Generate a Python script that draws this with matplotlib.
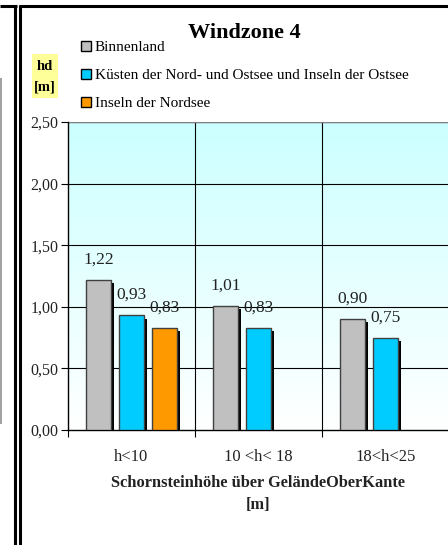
import numpy as np
import matplotlib
matplotlib.use("Agg")
import matplotlib.pyplot as plt
from matplotlib.patches import Patch, Rectangle
from matplotlib.lines import Line2D
import matplotlib.patheffects as pe
from matplotlib.ticker import FuncFormatter

categories = ["h<10", "10 <h< 18", "18<h<25"]
series_names = ["Binnenland",
                "Küsten der Nord- und Ostsee und Inseln der Ostsee",
                "Inseln der Nordsee"]
binnenland = [1.22, 1.01, 0.90]
kuesten = [0.93, 0.83, 0.75]
nordsee = [0.83, None, None]
yticks = [0.0, 0.5, 1.0, 1.5, 2.0, 2.5]
colors = ["#c0c0c0", "#00ccff", "#ff9900"]

plt.rcParams['font.family'] = ['Liberation Serif', 'DejaVu Serif']

W, H = 448, 545
fig = plt.figure(figsize=(W / 100, H / 100), dpi=100)

def fx(px):
    return px / W

def fy(py):
    return 1 - py / H

ax = fig.add_axes([fx(68), fy(430), fx(449) - fx(68), fy(122) - fy(430)])

n = len(categories)
ax.set_xlim(0, n)
ax.set_ylim(0, 2.5)

# gradient background
grad = np.linspace(1, 0, 256).reshape(-1, 1)
top = np.array([0.80, 1.0, 1.0])
bot = np.array([1.0, 1.0, 1.0])
img = bot + (top - bot) * grad[..., None]
ax.imshow(img, extent=[0, n, 0, 2.5], aspect='auto', zorder=0, origin='upper')

# grid
for y in yticks[1:]:
    ax.axhline(y, color='black', lw=0.8, zorder=1)
for x in range(1, n):
    ax.axvline(x, color='black', lw=0.8, zorder=1)

step = 0.26
width = 0.19
all_series = [binnenland, kuesten, nordsee]
shadow = [pe.SimplePatchShadow(offset=(2.4, -2.4), shadow_rgbFace='black', alpha=1.0, rho=1), pe.Normal()]
for si, (vals, col) in enumerate(zip(all_series, colors)):
    for ci, v in enumerate(vals):
        if v is None:
            continue
        xc = ci + 0.5 + (si - 1) * step
        b = ax.bar(xc, v, width=width, color=col, edgecolor='#404040', lw=1.0, zorder=3)
        for p in b:
            p.set_path_effects(shadow)
        ax.text(xc, v + 0.1, f"{v:.2f}".replace('.', ','), ha='center', va='bottom',
                fontsize=12.5, color='#222222', zorder=4)

ax.set_yticks(yticks)
ax.yaxis.set_major_formatter(FuncFormatter(lambda v, p: f"{v:.2f}".replace('.', ',')))
ax.set_xticks(range(0, n + 1))
ax.set_xticklabels([])
ax.set_xticks([i + 0.5 for i in range(n)], minor=True)
ax.set_xticklabels(categories, minor=True)
ax.tick_params(axis='x', which='minor', length=0, pad=14, labelsize=12, labelcolor='#222222')
ax.tick_params(axis='x', which='major', length=5, direction='out', width=0.8)
ax.tick_params(axis='y', length=5, direction='out', width=0.8, labelsize=11.5, labelcolor='#222222', pad=2)
for s in ['top', 'right']:
    ax.spines[s].set_visible(False)
ax.spines['left'].set_linewidth(1.0)
ax.spines['bottom'].set_linewidth(1.0)
ax.axhline(2.5, color='#808080', lw=1.0, zorder=2)

# title
fig.text(fx(244), fy(33), "Windzone 4", ha='center', va='center', fontsize=16, fontweight='bold')

# axis titles
fig.text(fx(258), fy(483), "Schornsteinhöhe über GeländeOberKante", ha='center', va='center',
         fontsize=11.8, fontweight='bold', color='#222222')
fig.text(fx(258), fy(505), "[m]", ha='center', va='center', fontsize=11.8, fontweight='bold', color='#222222')

fig.patches.append(Rectangle((fx(32), fy(98)), fx(58) - fx(32), fy(54) - fy(98),
                             transform=fig.transFigure, facecolor='#ffff99', edgecolor='none'))
fig.text(fx(45), fy(66), "hd", ha='center', va='center', fontsize=10.5, fontweight='bold')
fig.text(fx(45), fy(87), "[m]", ha='center', va='center', fontsize=10.5, fontweight='bold')

# legend
handles = [Patch(facecolor=c, edgecolor='black', lw=1.0) for c in colors]
fig.legend(handles, series_names, loc='upper left', bbox_to_anchor=(fx(81), fy(41)),
           frameon=False, fontsize=11, handlelength=0.65, handleheight=0.65,
           handletextpad=0.25, labelspacing=0.95, borderpad=0, borderaxespad=0)

# frame fragments
def line(xs, ys, color='black', lw=2.2):
    fig.add_artist(Line2D([fx(x) for x in xs], [fy(y) for y in ys], color=color, lw=lw,
                          transform=fig.transFigure, solid_capstyle='butt'))

line([0, 16.5], [6, 6])
line([15.3, 15.3], [5, 545])
line([19, 448], [6, 6])
line([20.3, 20.3], [5, 545])
line([1, 1], [78, 424], color='#909090', lw=1.2)

fig.savefig("out.png", dpi=100)
